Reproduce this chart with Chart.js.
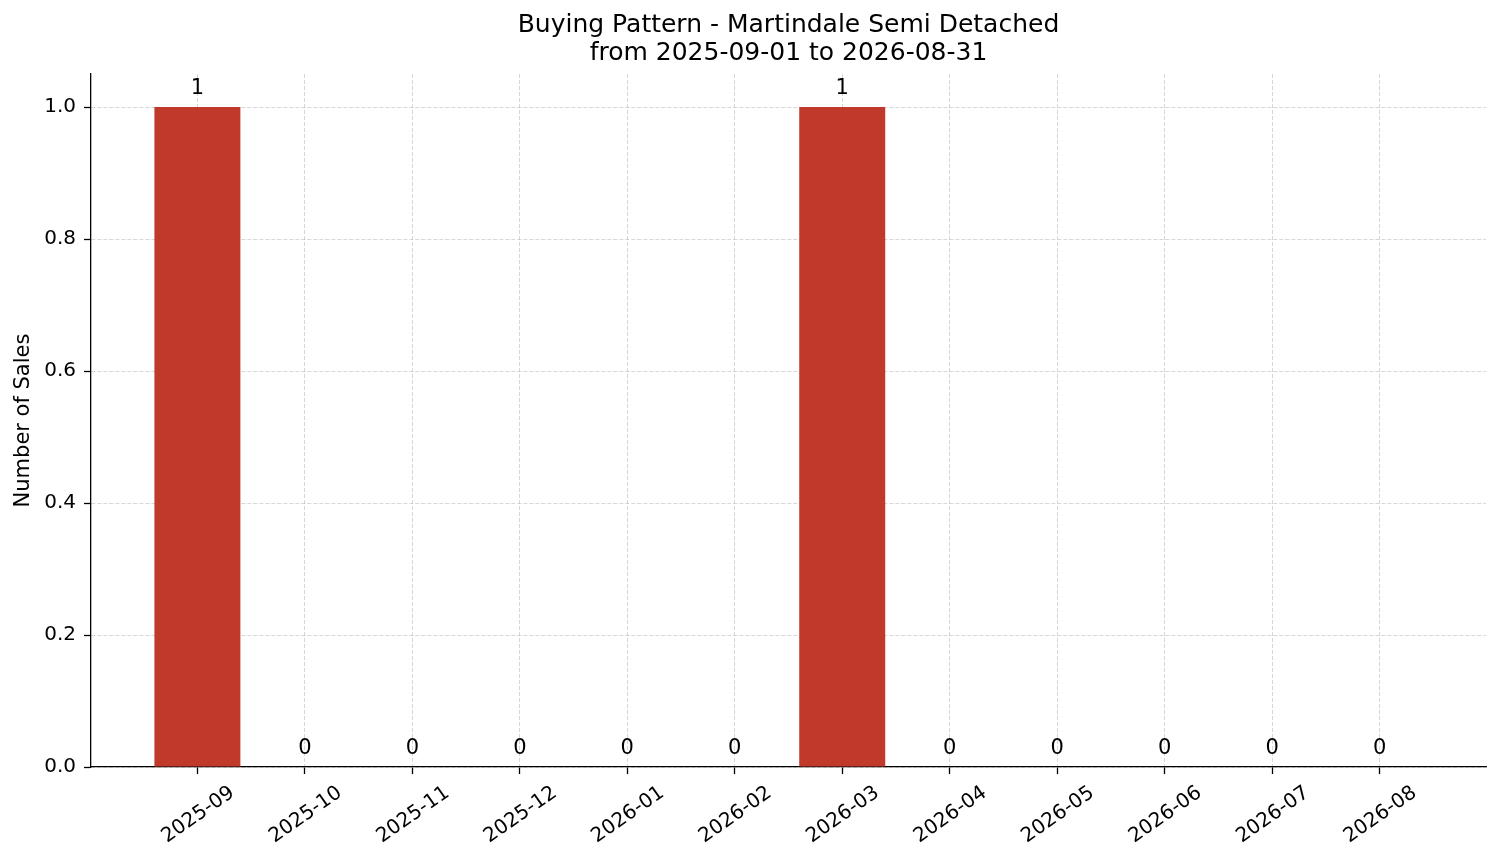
<!DOCTYPE html>
<html>
<head>
<meta charset="utf-8">
<script src="https://cdn.jsdelivr.net/npm/chart.js@4.4.1/dist/chart.umd.min.js"></script>
<style>
  html, body { margin: 0; padding: 0; background: #fff; }
  #wrap { width: 1501px; height: 863px; }
</style>
</head>
<body>
<div id="wrap"><canvas id="chart"></canvas></div>
<script>
// data
const months = ['2025-09', '2025-10', '2025-11', '2025-12', '2026-01', '2026-02',
                '2026-03', '2026-04', '2026-05', '2026-06', '2026-07', '2026-08'];
const sales = [1, 0, 0, 0, 0, 0, 1, 0, 0, 0, 0, 0];
const yTicks = [0, 0.2, 0.4, 0.6, 0.8, 1.0];
const titleLines = ['Buying Pattern - Martindale Semi Detached', 'from 2025-09-01 to 2026-08-31'];

const FONT = 'DejaVu Sans';

// numbers above each bar
const valueLabels = {
    id: 'valueLabels',
    afterDatasetsDraw(chart) {
        const ctx = chart.ctx;
        const meta = chart.getDatasetMeta(0);
        ctx.save();
        ctx.font = '21px "' + FONT + '"';
        ctx.fillStyle = '#000';
        ctx.textAlign = 'center';
        ctx.textBaseline = 'alphabetic';
        meta.data.forEach((bar, i) => {
            ctx.fillText(String(sales[i]), bar.x, bar.y - 13);
        });
        ctx.restore();
    }
};

const gridStyle = {
    color: 'rgba(176,176,176,0.5)',
    lineWidth: 1,
    offset: false,
    tickColor: '#000',
    tickLength: 7,
    tickWidth: 1.3,
    tickBorderDash: []
};

const ctx = document.getElementById('chart');
new Chart(ctx, {
    type: 'bar',
    data: {
        datasets: [{
            data: months.map((m, i) => ({x: i, y: sales[i]})),
            backgroundColor: '#c0392b',
            borderWidth: 0,
            barPercentage: 0.8,
            categoryPercentage: 1.0
        }]
    },
    options: {
        responsive: true,
        maintainAspectRatio: false,
        animation: false,
        layout: { padding: { left: 0, right: 15, top: 0, bottom: 0 } },
        plugins: {
            legend: { display: false },
            tooltip: { enabled: false },
            title: {
                display: true,
                fullSize: false,
                text: titleLines,
                color: '#000',
                font: { family: FONT, size: 25, weight: 'normal', lineHeight: 1.12 },
                padding: { top: 11.5, bottom: 6.5 }
            }
        },
        scales: {
            x: {
                type: 'linear',
                offset: false,
                min: -0.99,
                max: 11.99,
                z: 1,
                afterBuildTicks: (scale) => {
                    scale.ticks = months.map((m, i) => ({value: i}));
                },
                afterFit: (scale) => { scale.height = 96; },
                ticks: {
                    autoSkip: false,
                    minRotation: 35,
                    maxRotation: 35,
                    labelOffset: 35,
                    padding: 7,
                    color: '#000',
                    font: { family: FONT, size: 20 },
                    callback: (v) => months[v] || ''
                },
                grid: gridStyle,
                border: { display: true, color: '#000', width: 1.3, dash: [4, 2] }
            },
            y: {
                min: 0,
                max: 1.05,
                z: 1,
                afterBuildTicks: (scale) => {
                    scale.ticks = yTicks.map(v => ({value: v}));
                },
                afterFit: (scale) => { scale.width = 91; },
                ticks: {
                    padding: 8,
                    color: '#000',
                    font: { family: FONT, size: 20 },
                    callback: (v) => v.toFixed(1)
                },
                grid: gridStyle,
                border: { display: true, color: '#000', width: 1.3, dash: [4, 2] },
                title: {
                    display: true,
                    text: 'Number of Sales',
                    color: '#000',
                    font: { family: FONT, size: 21 },
                    padding: { top: 11, bottom: 0 }
                }
            }
        }
    },
    plugins: [valueLabels]
});
</script>
</body>
</html>
